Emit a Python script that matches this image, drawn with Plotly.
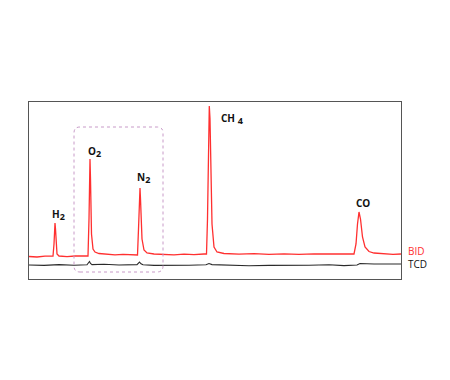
import plotly.graph_objects as go

# Retention time (arbitrary units) and detector signal
bid_time = [0, 0.8, 1.6, 2.4, 2.5, 2.55, 2.6, 2.65, 2.7, 2.8, 3.0, 3.8, 4.6, 5.4, 5.9, 6.0, 6.05, 6.1, 6.15,
            6.25, 6.4, 6.6, 7.0, 7.8, 8.6, 9.4, 10.2, 10.85, 10.95, 11.05, 11.1, 11.15, 11.3, 11.5, 11.8,
            12.5, 13.5, 14.5, 15.5, 16.5, 17.5, 17.75, 17.85, 17.95, 18.03, 18.1, 18.2, 18.3, 18.5, 18.8,
            19.5, 21, 22.5, 24, 25.5, 27, 28.5, 30, 31.5, 32.5, 32.7, 32.85, 33.0, 33.15, 33.35, 33.6,
            34.0, 34.5, 35.5, 36.4, 37.2]
bid_signal = [22.5, 22.0, 22.8, 23, 35, 50, 56, 50, 36, 25, 23, 22.4, 23.0, 22.6, 23, 60, 110, 120, 100,
              45, 30, 27, 25.5, 24.5, 24.2, 24.6, 24.0, 24, 50, 89, 91, 80, 40, 29, 26,
              25, 24.6, 24.2, 24.8, 24.4, 25, 25, 60, 150, 173, 160, 100, 55, 32, 27,
              25.5, 24.8, 25.3, 24.6, 25.1, 24.7, 25.2, 24.8, 25.0, 25, 35, 55, 67, 60, 42, 32,
              27.5, 26, 25, 24.6, 25.0]

tcd_time = [0, 1.5, 3.0, 4.5, 5.8, 6.05, 6.15, 6.3, 7.5, 9.0, 10.8, 11.05, 11.2, 11.4, 12.5, 14.0, 16.0,
            17.7, 18.0, 18.3, 20.0, 22.0, 24.0, 26.0, 28.0, 30.0, 31.5, 32.8, 33.1, 34.5, 36.0, 37.2]
tcd_signal = [14.0, 13.6, 14.4, 13.8, 14.2, 17.5, 15.5, 14.4, 14.8, 14.0, 14.4, 17, 15.2, 14.2, 13.6, 14.0, 13.8,
              14.2, 15.5, 14.4, 13.8, 13.2, 13.6, 13.4, 13.8, 14.2, 13.4, 14.0, 15.5, 15.0, 15.2, 15.0]

peak_names = ["H", "O", "N", "CH ", "CO"]
peak_subs = ["2", "2", "2", "4", ""]
label_time = [2.95, 6.5, 11.45, 20.3, 33.4]
label_signal = [64, 127, 101, 160, 76]

RED = "#ff3030"
fig = go.Figure()
fig.add_trace(go.Scatter(x=bid_time, y=bid_signal, mode="lines",
                         line=dict(color=RED, width=1.3), hoverinfo="skip"))
fig.add_trace(go.Scatter(x=tcd_time, y=tcd_signal, mode="lines",
                         line=dict(color="#2a2a2a", width=1.1), hoverinfo="skip"))

for name, sub, xt, ys in zip(peak_names, peak_subs, label_time, label_signal):
    text = "<b>" + name + "</b>"
    if sub:
        text += "<sub><b><span style='font-size:9px'>" + sub + "</span></b></sub>"
    fig.add_annotation(x=xt, y=ys, xref="x", yref="y", text=text, showarrow=False,
                       font=dict(family="Open Sans", size=10, color="#111111"))

fig.add_annotation(x=1, y=28, xref="paper", yref="y", text="BID", showarrow=False,
                   xanchor="left", xshift=5, font=dict(family="Open Sans", size=10, color=RED))
fig.add_annotation(x=1, y=15, xref="paper", yref="y", text="TCD", showarrow=False,
                   xanchor="left", xshift=5, font=dict(family="Open Sans", size=10, color="#111111"))

# dotted rounded box around O2/N2 region
fig.add_shape(type="path",
              path="M 5.1,7 L 12.8,7 Q 13.4,7 13.4,13 L 13.4,146 Q 13.4,152 12.8,152 "
                   "L 5.1,152 Q 4.5,152 4.5,146 L 4.5,13 Q 4.5,7 5.1,7 Z",
              xref="x", yref="y", line=dict(color="#c89ac8", width=1, dash="dot"))

fig.update_xaxes(range=[0, 37.2], showgrid=False, zeroline=False, showticklabels=False,
                 ticks="", showline=True, mirror=True, linecolor="#555555", linewidth=1)
fig.update_yaxes(range=[0, 177], showgrid=False, zeroline=False, showticklabels=False,
                 ticks="", showline=True, mirror=True, linecolor="#555555", linewidth=1)
fig.update_layout(width=450, height=380, margin=dict(l=21, r=57, t=94, b=109),
                  plot_bgcolor="white", paper_bgcolor="white", showlegend=False)
fig.write_html("out.html")
